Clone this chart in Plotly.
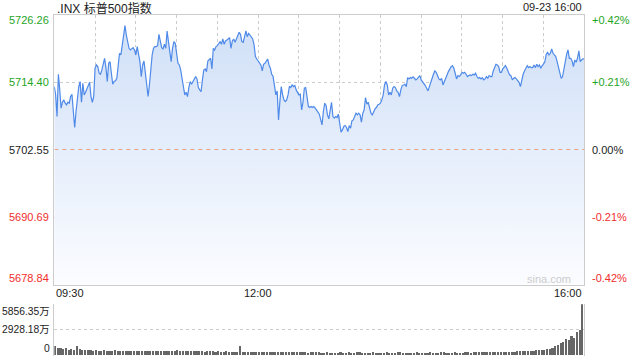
import numpy as np
import plotly.graph_objects as go

# ---------------- data ----------------
title_text = ".INX 标普500指数"
date_text = "09-23 16:00"
prev_close = 5702.55
price_ticks = [5726.26, 5714.40, 5702.55, 5690.69, 5678.84]
price_labels = ["5726.26", "5714.40", "5702.55", "5690.69", "5678.84"]
pct_labels = ["+0.42%", "+0.21%", "0.00%", "-0.21%", "-0.42%"]
vol_ticks = [5856.35, 2928.18, 0]
vol_labels = ["5856.35万", "2928.18万", "0"]
time_labels = ["09:30", "12:00", "16:00"]
time_label_minutes = [0, 150, 390]

# one value per minute, 09:30 .. 16:00
prices = [
    5713.60, 5712.14, 5708.34, 5715.76, 5713.02, 5709.80, 5710.85, 5711.26, 5710.68, 5710.39,
    5710.85, 5710.68, 5711.85, 5712.26, 5709.22, 5706.41, 5709.22, 5711.26, 5713.60, 5714.48,
    5710.85, 5714.19, 5712.14, 5712.61, 5713.19, 5713.89, 5714.36, 5711.85, 5710.85, 5711.85,
    5716.82, 5717.40, 5717.11, 5715.94, 5715.76, 5716.52, 5717.40, 5718.57, 5716.93, 5714.48,
    5717.69, 5717.99, 5715.94, 5714.01, 5714.48, 5714.60, 5715.06, 5717.40, 5719.45, 5719.15,
    5720.62, 5722.37, 5724.30, 5722.66, 5721.20, 5720.32, 5720.03, 5720.32, 5720.44, 5720.03,
    5719.15, 5720.62, 5719.15, 5717.99, 5715.36, 5717.40, 5718.10, 5715.94, 5713.89, 5711.85,
    5713.89, 5716.52, 5719.15, 5720.32, 5720.62, 5720.62, 5720.79, 5722.78, 5721.49, 5720.44,
    5720.21, 5721.03, 5720.32, 5723.36, 5721.49, 5719.74, 5717.99, 5720.32, 5721.49, 5721.20,
    5719.74, 5717.69, 5717.40, 5716.52, 5715.06, 5713.89, 5712.14,
    # 11:07 ..
    5712.61, 5711.85, 5713.43, 5714.48, 5714.01, 5714.48, 5715.18, 5715.36, 5714.95, 5713.43,
    5713.02, 5712.72, 5714.77, 5716.52, 5716.70, 5716.23, 5718.10, 5718.28, 5718.57, 5716.70,
    5720.32, 5720.03, 5720.62, 5720.79, 5721.20, 5721.49, 5721.03, 5721.96, 5721.03, 5721.61,
    5721.79, 5722.08, 5722.19, 5720.32, 5721.61, 5721.96, 5721.38, 5721.96, 5722.66, 5723.13,
    5722.78, 5721.49, 5721.38, 5722.37, 5723.36, 5722.37, 5722.95, 5722.66, 5722.19, 5721.96,
    5720.91, 5718.86, 5718.45, 5718.10, 5717.69, 5717.40, 5716.35, 5717.52, 5717.69, 5717.99,
    5718.45, 5717.40, 5716.82, 5715.76, 5715.36, 5713.78, 5712.14, 5712.84, 5707.75, 5710.97,
    5713.60, 5712.14, 5711.26, 5710.97, 5711.26, 5712.14, 5713.60, 5713.43, 5713.89, 5713.60,
    5713.78, 5713.02, 5712.43, 5712.14, 5712.26, 5709.51, 5710.85, 5713.31, 5713.43, 5711.56,
    5710.09, 5709.92, 5710.09, 5709.92, 5710.09, 5709.80, 5709.33, 5709.10,
    # 12:45 ..
    5708.75, 5707.75, 5706.88, 5709.22, 5710.68, 5710.27, 5708.63, 5707.93, 5709.51, 5710.85,
    5708.34, 5708.05, 5708.34, 5708.16, 5708.75, 5707.46, 5705.59, 5706.00, 5706.59, 5706.76,
    5706.41, 5705.71, 5706.76, 5706.29, 5707.58, 5707.75, 5708.34, 5708.92, 5708.63, 5708.92,
    5708.63, 5707.34, 5708.92, 5709.51, 5711.67, 5710.50, 5710.85, 5709.80, 5708.92, 5708.63,
    5709.22, 5709.68, 5709.92, 5710.39, 5710.50, 5710.68, 5711.26, 5712.14, 5713.89, 5714.48,
    5713.89, 5712.14, 5712.61, 5712.14, 5713.31, 5713.60, 5713.43, 5712.84, 5712.61, 5711.85,
    5713.02, 5713.78, 5713.89, 5714.01, 5713.60, 5715.18, 5714.95, 5715.18, 5715.06, 5715.30,
    5715.06, 5714.77, 5714.95, 5715.18, 5715.53, 5714.77, 5714.48, 5714.19, 5713.78, 5713.31,
    5712.84, 5713.60, 5714.48, 5715.18, 5715.76, 5716.35, 5716.11, 5715.53, 5714.95, 5714.77,
    5715.06, 5713.89, 5714.60, 5715.18, 5715.65, 5716.23, 5716.82, 5717.11,
    # 14:23 ..
    5717.28, 5716.82, 5715.94, 5714.95, 5715.53, 5715.36, 5715.65, 5716.11, 5715.94, 5716.11,
    5715.76, 5715.36, 5715.53, 5715.65, 5715.53, 5715.76, 5715.65, 5715.94, 5715.36, 5715.06,
    5715.18, 5714.95, 5715.18, 5714.77, 5714.95, 5715.36, 5715.06, 5715.53, 5715.36, 5715.36,
    5716.35, 5716.93, 5717.52, 5717.40, 5717.11, 5716.11, 5716.11, 5716.70, 5717.11, 5717.28,
    5716.82, 5716.11, 5715.65, 5715.53, 5714.77, 5715.06, 5715.18, 5714.95, 5714.60, 5714.36,
    5713.60, 5714.77, 5715.76, 5716.35, 5716.93, 5717.28, 5716.93, 5717.11, 5716.93, 5716.93,
    5717.40, 5716.93, 5717.52, 5717.11, 5717.40, 5716.82, 5717.28, 5717.52, 5717.99, 5719.27,
    5719.62, 5719.15, 5719.45, 5720.21, 5719.45, 5719.04, 5718.86, 5717.99, 5717.11, 5715.94,
    5715.06, 5715.36, 5716.82, 5718.10, 5719.27, 5720.03, 5718.57, 5718.57, 5718.10, 5717.11,
    5718.28, 5717.87, 5718.57, 5719.86, 5717.99, 5718.28, 5718.45, 5718.45,
]

# volume in 万, one bar per two minutes
volumes = [
    1060, 800, 780, 690, 800, 640, 660, 600, 1050, 700,
    620, 570, 560, 540, 520, 560, 500, 520, 540, 500, 480, 520, 560, 500, 480, 500, 470, 480, 520, 480,
    500, 460, 480, 450, 470, 500, 460, 440, 470, 450, 460, 440, 430, 450, 460, 600, 480, 470, 450, 440,
    460, 430, 450, 470, 440, 420, 450, 430, 440, 420,
    430, 410, 420, 440, 420, 400, 410, 420, 1060, 380, 360, 350, 340, 360, 330, 340, 350, 330, 320, 340,
    330, 350, 320, 330, 310, 340, 320, 330, 350, 320, 310, 330, 320, 300, 320, 380, 330, 310,
    300, 290, 310, 300, 290, 280, 300, 310, 290, 300, 320, 300, 290, 310, 330, 300, 280, 300, 290, 310,
    300, 290, 280, 300, 310, 300, 290, 300, 310, 330, 300, 290, 280, 300, 290, 310, 300, 290, 280, 300,
    310, 300, 290, 300, 310, 320, 300, 290, 300, 310, 300, 290, 300, 310, 320, 300, 310, 320, 330, 340,
    330, 350,
    340, 360, 350, 370, 360, 380, 390, 400, 420, 410, 430, 450, 440, 470, 480, 500, 520, 540, 560, 600,
    640, 700, 760, 860, 1000, 1150, 1350, 1500, 1800, 1700, 2200, 2000, 2700, 2900, 5856,
]

# ---------------- figure ----------------
W, H = 640, 360
FONT = "Liberation Sans, Arial, Noto Sans CJK SC, sans-serif"
GREEN, RED, BLACK = "#1fa51f", "#f02c2c", "#222222"
label_colors = [GREEN, GREEN, BLACK, RED, RED]

minutes = np.arange(len(prices))
session_len = 390
vol_x = (np.arange(len(volumes)) + 0.5) * session_len / len(volumes)

x0, x1 = 54.3 / W, 584.3 / W
py0, py1 = (H - 284.5) / H, (H - 14.5) / H
vy0, vy1 = (H - 355.5) / H, (H - 304.3) / H

fig = go.Figure()
fig.add_trace(go.Scatter(
    x=minutes, y=prices, mode="lines",
    line=dict(color="#4f8ae8", width=1.2),
    fill="tozeroy",
    fillgradient=dict(type="vertical",
                      colorscale=[[0, "#fbfcff"], [1, "#cfdff7"]],
                      start=price_ticks[-1], stop=price_ticks[0]),
    hoverinfo="skip", xaxis="x", yaxis="y",
))
fig.add_trace(go.Bar(
    x=vol_x, y=volumes, width=session_len / len(volumes) * 0.6,
    marker=dict(color="#666666", line=dict(width=0)),
    xaxis="x2", yaxis="y2", hoverinfo="skip",
))

grid_min = list(range(30, session_len, 30))
fig.update_layout(
    width=W, height=H, margin=dict(l=0, r=0, t=0, b=0),
    paper_bgcolor="white", plot_bgcolor="white", showlegend=False,
    bargap=0,
    xaxis=dict(domain=[x0, x1], range=[0, session_len], anchor="y",
               tickvals=grid_min, showticklabels=False, ticks="",
               showgrid=True, gridcolor="#cccccc", griddash="dot", gridwidth=1,
               showline=True, linecolor="#cccccc", linewidth=1, mirror=True, zeroline=False),
    yaxis=dict(domain=[py0, py1], range=[price_ticks[-1], price_ticks[0]], anchor="x",
               tickvals=[price_ticks[1], price_ticks[3]], showticklabels=False, ticks="",
               showgrid=True, gridcolor="#cccccc", griddash="dot", gridwidth=1,
               showline=True, linecolor="#cccccc", linewidth=1, mirror=True, zeroline=False),
    xaxis2=dict(domain=[x0, x1], range=[0, session_len], anchor="y2",
                showticklabels=False, ticks="", showgrid=False, showline=False, zeroline=False),
    yaxis2=dict(domain=[vy0, vy1], range=[0, vol_ticks[0]], anchor="x2",
                tickvals=vol_ticks[:2], showticklabels=False, ticks="",
                showgrid=True, gridcolor="#cccccc", griddash="dot", gridwidth=1,
                showline=True, linecolor="#cccccc", linewidth=1, mirror=True, zeroline=False),
)

# zero (previous close) line
fig.add_shape(type="line", xref="x", yref="y", x0=0, x1=session_len,
              y0=prev_close, y1=prev_close,
              line=dict(color="#eaa089", width=1, dash="4px,4px"))

ann = []
shifts = [-5.5, 0, 0, 0, 6.5]
for v, lab, pct, c, s in zip(price_ticks, price_labels, pct_labels, label_colors, shifts):
    ann.append(dict(x=51 / W, xref="paper", y=v, yref="y", text=lab, xanchor="right",
                    yanchor="middle", yshift=s, showarrow=False,
                    font=dict(family=FONT, size=11, color=c)))
    ann.append(dict(x=590 / W, xref="paper", y=v, yref="y", text=pct, xanchor="left",
                    yanchor="middle", yshift=s, showarrow=False,
                    font=dict(family=FONT, size=11, color=c)))
vshifts = [-7, 0, 7]
for v, lab, s in zip(vol_ticks, vol_labels, vshifts):
    ann.append(dict(x=52 / W, xref="paper", y=v, yref="y2", text=lab, xanchor="right",
                    yanchor="middle", yshift=s, showarrow=False,
                    font=dict(family=FONT, size=10.3, color=BLACK)))
anchors = ["left", "center", "right"]
for m, lab, a in zip(time_label_minutes, time_labels, anchors):
    ann.append(dict(x=m, xref="x", y=(H - 293) / H, yref="paper", text=lab, xanchor=a,
                    yanchor="middle", showarrow=False,
                    font=dict(family=FONT, size=11, color=BLACK)))
ann.append(dict(x=55 / W, xref="paper", y=(H - 8) / H, yref="paper", text=title_text,
                xanchor="left", yanchor="middle", showarrow=False,
                font=dict(family=FONT, size=12, color=BLACK)))
ann.append(dict(x=584 / W, xref="paper", y=(H - 7) / H, yref="paper", text=date_text,
                xanchor="right", yanchor="middle", showarrow=False,
                font=dict(family=FONT, size=11, color=BLACK)))
ann.append(dict(x=573 / W, xref="paper", y=(H - 279) / H, yref="paper", text="sina.com",
                xanchor="right", yanchor="middle", showarrow=False,
                font=dict(family=FONT, size=11, color="#cccccc")))
fig.update_layout(annotations=ann)

fig.write_html("out.html")
